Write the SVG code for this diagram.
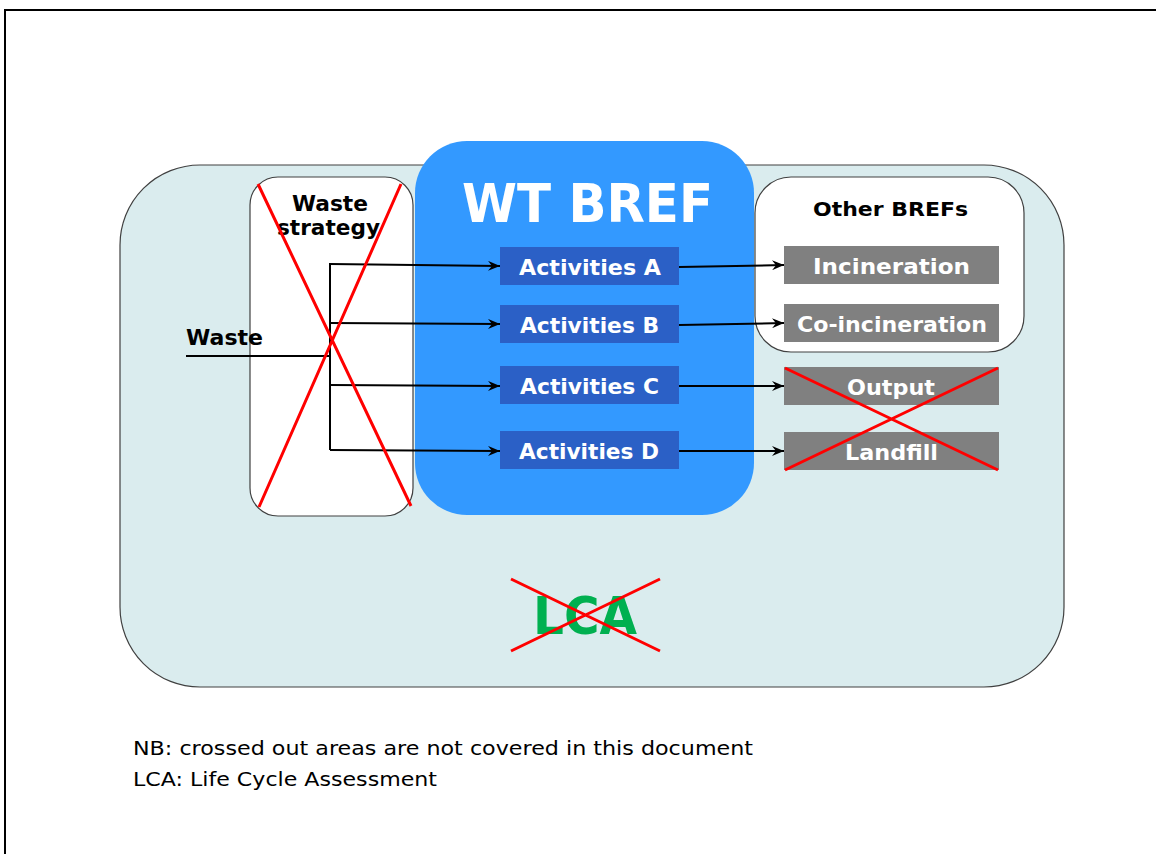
<svg xmlns="http://www.w3.org/2000/svg" width="1156" height="854" viewBox="0 0 1156 854">
<defs>
<marker id="arr" viewBox="0 0 12 10" refX="12" refY="5" markerWidth="12" markerHeight="10" markerUnits="userSpaceOnUse" orient="auto">
<path d="M0,0 L12,5 L0,10 L4,5 Z" fill="#000"/>
</marker>
<style>
text{font-family:"DejaVu Sans","Verdana",sans-serif;}
.b{font-weight:bold;}
.w{fill:#fff;}
.act{fill:#2b60c6;}
.gry{fill:#808080;}
.x{stroke:#ff0000;stroke-width:3;fill:none;}
.ln{stroke:#000;stroke-width:2;fill:none;}
.ar{stroke:#000;stroke-width:2;fill:none;marker-end:url(#arr);}
</style>
</defs>
<rect width="1156" height="854" fill="#fff"/>
<path d="M5,854 V10 H1156" fill="none" stroke="#000" stroke-width="2"/>

<g id="lca-area">
<rect x="120" y="165" width="944" height="522" rx="80" ry="80" fill="#daecee" stroke="#404040" stroke-width="1.2"/>
</g>

<g id="waste-strategy">
<rect x="250" y="177" width="163" height="339" rx="28" ry="28" fill="#fff" stroke="#404040" stroke-width="1.2"/>
<text x="292" y="211" class="b" font-size="21" textLength="76" lengthAdjust="spacingAndGlyphs">Waste</text>
<text x="277" y="235" class="b" font-size="21" textLength="103" lengthAdjust="spacingAndGlyphs">strategy</text>
</g>

<g id="wt-bref">
<rect x="415" y="141" width="339" height="374" rx="52" ry="52" fill="#3399ff"/>
<text x="462" y="222" class="b w" font-size="53" textLength="251" lengthAdjust="spacingAndGlyphs">WT BREF</text>
</g>

<g id="other-brefs">
<rect x="755" y="177" width="269" height="175" rx="36" ry="36" fill="#fff" stroke="#404040" stroke-width="1.2"/>
<text x="813" y="216" class="b" font-size="20" textLength="155" lengthAdjust="spacingAndGlyphs">Other BREFs</text>
</g>

<g id="activities-a"><rect class="act" x="500" y="247" width="179" height="38"/><text x="519" y="275" class="b w" font-size="21" textLength="142" lengthAdjust="spacingAndGlyphs">Activities A</text></g>
<g id="activities-b"><rect class="act" x="500" y="305" width="179" height="38"/><text x="520" y="333" class="b w" font-size="21" textLength="139" lengthAdjust="spacingAndGlyphs">Activities B</text></g>
<g id="activities-c"><rect class="act" x="500" y="366" width="179" height="38"/><text x="520" y="394" class="b w" font-size="21" textLength="139" lengthAdjust="spacingAndGlyphs">Activities C</text></g>
<g id="activities-d"><rect class="act" x="500" y="431" width="179" height="38"/><text x="519" y="459" class="b w" font-size="21" textLength="140" lengthAdjust="spacingAndGlyphs">Activities D</text></g>

<g id="incineration"><rect class="gry" x="784" y="246" width="215" height="38"/><text x="813" y="274" class="b w" font-size="21" textLength="157" lengthAdjust="spacingAndGlyphs">Incineration</text></g>
<g id="co-incineration"><rect class="gry" x="784" y="304" width="215" height="38"/><text x="797" y="332" class="b w" font-size="21" textLength="190" lengthAdjust="spacingAndGlyphs">Co-incineration</text></g>
<g id="output"><rect class="gry" x="784" y="367" width="215" height="38"/><text x="847" y="395" class="b w" font-size="21" textLength="88" lengthAdjust="spacingAndGlyphs">Output</text></g>
<g id="landfill"><rect class="gry" x="784" y="432" width="215" height="38"/><text x="845" y="460" class="b w" font-size="21" textLength="93" lengthAdjust="spacingAndGlyphs">Landfill</text></g>

<g id="waste-label">
<text x="186" y="345" class="b" font-size="21" textLength="77" lengthAdjust="spacingAndGlyphs">Waste</text>
</g>

<g id="connectors">
<path class="ln" d="M186,356 H330"/>
<path class="ln" d="M330,263 V450"/>
<path class="ar" d="M330,264 L500,266"/>
<path class="ar" d="M330,323 L500,324"/>
<path class="ar" d="M330,385 L500,386"/>
<path class="ar" d="M330,450 L500,451"/>
<path class="ar" d="M679,267 L784,265"/>
<path class="ar" d="M679,325 L784,323"/>
<path class="ar" d="M679,386 L784,386"/>
<path class="ar" d="M679,451 L784,451"/>
</g>

<g id="lca">
<text x="533" y="634" class="b" font-size="52" fill="#00b050" textLength="104" lengthAdjust="spacingAndGlyphs">LCA</text>
</g>

<g id="crosses">
<path class="x" d="M258,184 L411,506 M401,184 L259,507"/>
<path class="x" d="M785,368 L998,470 M998,368 L785,470"/>
<path class="x" d="M511,579 L660,651 M511,651 L660,579"/>
</g>

<g id="notes">
<text x="133" y="755" font-size="20" textLength="620" lengthAdjust="spacingAndGlyphs">NB: crossed out areas are not covered in this document</text>
<text x="133" y="786" font-size="20" textLength="304" lengthAdjust="spacingAndGlyphs">LCA: Life Cycle Assessment</text>
</g>
</svg>
